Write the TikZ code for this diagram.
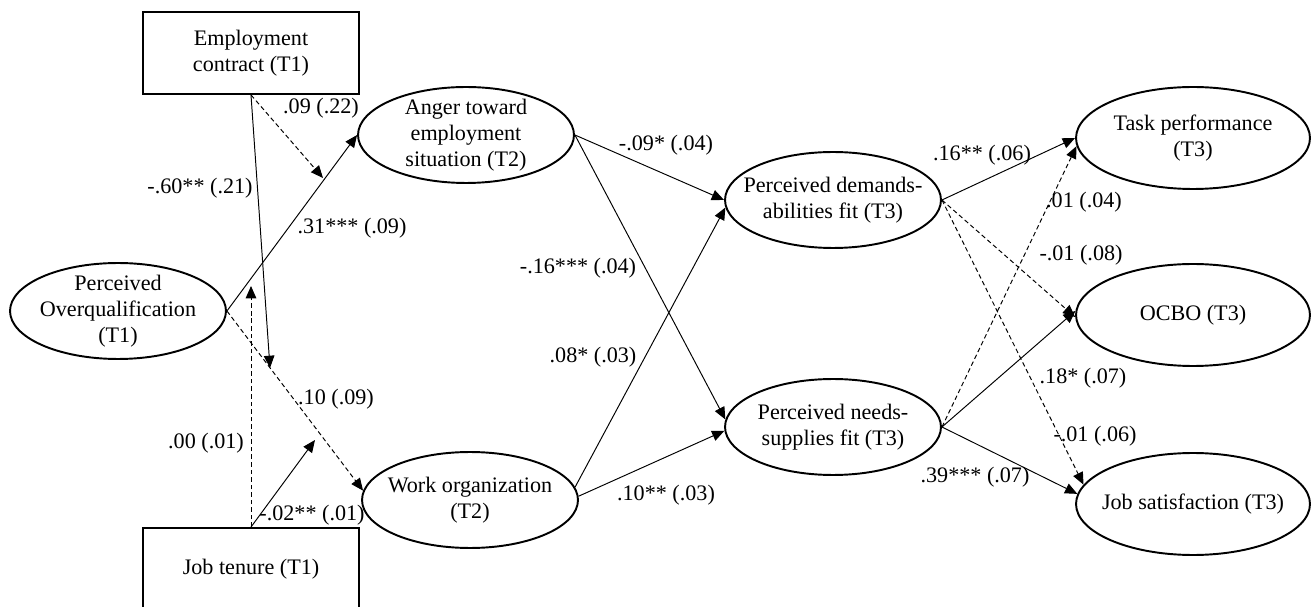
\documentclass[tikz,border=0pt]{standalone}
\usepackage{fontspec}
\setmainfont{Liberation Serif}
\usetikzlibrary{shapes.geometric,arrows.meta}

\begin{document}
\begin{tikzpicture}[x=0.02cm, y=-0.02cm,
	font=\fontsize{12.6}{14.7}\selectfont,
	>={Triangle[length=7pt,width=6pt]},
	latent/.style={ellipse, draw, line width=1.1pt, inner sep=0pt, minimum width=4.32cm, minimum height=1.92cm},
	outcome/.style={latent, minimum width=4.68cm, minimum height=2.04cm},
	observed/.style={rectangle, draw, line width=1.1pt, align=center, minimum width=4.32cm, minimum height=1.64cm},
	coef/.style={inner sep=0pt},
	nonsig/.style={dash pattern=on 2.6pt off 1.7pt}]
		\useasboundingbox (0,0) rectangle (1311,607);
		% controls
		\node[observed] (ec) at (251,53) {Employment\\contract (T1)};
		\node[observed] (jt) at (251,569) {Job tenure (T1)};
		% latent variables
		\node[latent, label={[align=center]center:Perceived\\Overqualification\\(T1)}] (po) at (118,311) {};
		\node[latent, label={[align=center]center:Anger toward\\employment\\situation (T2)}] (anger) at (466,135) {};
		\node[latent, label={[align=center]center:Work organization\\(T2)}] (wo) at (470,500) {};
		\node[latent, label={[align=center]center:Perceived demands-\\abilities fit (T3)}] (da) at (833,200) {};
		\node[latent, label={[align=center]center:Perceived needs-\\supplies fit (T3)}] (ns) at (833,427) {};
		\node[outcome, label={[align=center]center:Task performance\\(T3)}] (task) at (1193,138) {};
		\node[outcome, label={center:OCBO (T3)}] (ocbo) at (1193,315) {};
		\node[outcome, label={center:Job satisfaction (T3)}] (js) at (1193,504) {};
		% moderation targets
		\coordinate (ecAnger) at (323,178);
		\coordinate (ecWork) at (270,368);
		\coordinate (jtAnger) at (251,286);
		\coordinate (jtWork) at (315,440);

		\path[->, line width=0.55pt]
		(po.east) edge (anger.west)
		edge[nonsig] (wo.175)
		(ec.south) edge[nonsig] (ecAnger)
		edge (ecWork)
		(jt.north) edge[nonsig] (jtAnger)
		edge (jtWork)
		(anger.east) edge (da.west)
		edge (ns.176)
		(wo.7) edge (da.184)
		(wo.2) edge (ns.182)
		(da.east) edge (task.west)
		edge[nonsig] (ocbo.181)
		edge[nonsig] (js.170)
		(ns.east) edge[nonsig] (task.184)
		edge (ocbo.178)
		edge (js.175)
		;

		% coefficients
		\node[coef] (cEcA) at (321,108) {.09 (.22)};
		\node[coef] (cEcW) at (200,188) {-.60** (.21)};
		\node[coef] (cPoA) at (352,228) {.31*** (.09)};
		\node[coef] (cPoW) at (336,399) {.10 (.09)};
		\node[coef] (cJtA) at (206,443) {.00 (.01)};
		\node[coef] (cJtW) at (312,515) {-.02** (.01)};
		\node[coef] (cAD) at (666,145) {-.09* (.04)};
		\node[coef] (cAN) at (578,268) {-.16*** (.04)};
		\node[coef] (cWD) at (593,357) {.08* (.03)};
		\node[coef] (cWN) at (666,495) {.10** (.03)};
		\node[coef] (cDT) at (982,155) {.16** (.06)};
		\node[coef] (cNT) at (1084,202) {.01 (.04)};
		\node[coef] (cDO) at (1081,255) {-.01 (.08)};
		\node[coef] (cNO) at (1083,378) {.18* (.07)};
		\node[coef] (cDJ) at (1095,436) {-.01 (.06)};
		\node[coef] (cNJ) at (975,477) {.39*** (.07)};
\end{tikzpicture}
\end{document}
